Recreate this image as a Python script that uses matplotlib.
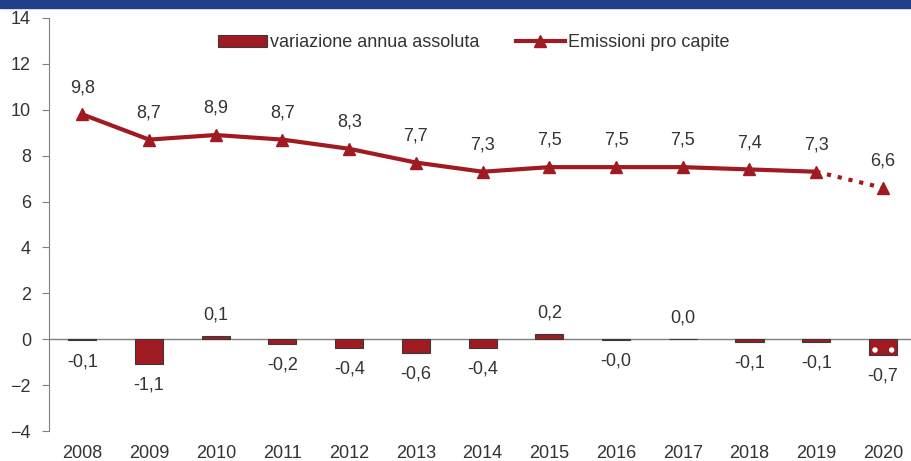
import matplotlib
matplotlib.use('Agg')
import matplotlib.pyplot as plt
from matplotlib.patches import Rectangle
import numpy as np

years = ['2008', '2009', '2010', '2011', '2012', '2013', '2014',
         '2015', '2016', '2017', '2018', '2019', '2020']
variazione = [-0.05, -1.09, 0.12, -0.2, -0.38, -0.6, -0.38, 0.24, -0.03, 0.02, -0.1, -0.13, -0.7]
variazione_lbl = ['-0,1', '-1,1', '0,1', '-0,2', '-0,4', '-0,6', '-0,4', '0,2', '-0,0', '0,0', '-0,1', '-0,1', '-0,7']
pro_capite = [9.8, 8.7, 8.9, 8.7, 8.3, 7.7, 7.3, 7.5, 7.5, 7.5, 7.4, 7.3, 6.6]
pro_capite_lbl = ['9,8', '8,7', '8,9', '8,7', '8,3', '7,7', '7,3', '7,5', '7,5', '7,5', '7,4', '7,3', '6,6']

red = '#A01B21'
txt = '#333333'
plt.rcParams['font.family'] = ['Liberation Sans', 'DejaVu Sans']
plt.rcParams['hatch.linewidth'] = 1.5

fig = plt.figure(figsize=(9.12, 4.61), dpi=100)
# banda blu del titolo (tagliata)
fig.patches.append(Rectangle((0, 0.982), 1, 0.02, transform=fig.transFigure,
                             color='#21418C', zorder=0))
ax = fig.add_axes([0.0537, 0.065, 0.951, 0.896])

x = np.arange(len(years))
bars = ax.bar(x, variazione, width=0.42, color=red, edgecolor='#3a3a3a',
              linewidth=0.8, label='variazione annua assoluta', zorder=3)
# 2020 stimato: puntini bianchi sulla barra
ax.bar(x[-1:], variazione[-1:], width=0.42, fill=False, hatch='.',
       edgecolor='white', linewidth=0, zorder=3.5)

ax.axhline(0, color='#7f7f7f', linewidth=1, zorder=2)

line, = ax.plot(x[:-1], pro_capite[:-1], color=red, linewidth=3, marker='^',
                markersize=9, zorder=4, label='Emissioni pro capite')
ax.plot(x[-2:], pro_capite[-2:], color=red, linewidth=3, linestyle=':', zorder=4)
ax.plot(x[-1], pro_capite[-1], color=red, marker='^', markersize=9,
        linestyle='none', zorder=4)

for i, (v, s) in enumerate(zip(pro_capite, pro_capite_lbl)):
    ax.text(x[i], v + 0.8, s, ha='center', va='bottom', fontsize=13, color=txt)

for i, (v, s) in enumerate(zip(variazione, variazione_lbl)):
    if s.startswith('-'):
        ax.text(x[i], v - 0.55, s, ha='center', va='top', fontsize=13, color=txt)
    else:
        ax.text(x[i], v + 0.55, s, ha='center', va='bottom', fontsize=13, color=txt)

ax.set_xlim(-0.5, len(years) - 0.5)
ax.set_ylim(-4, 14)
ax.set_yticks(range(-4, 15, 2))
ax.set_xticks(x)
ax.set_xticklabels(years)
ax.tick_params(axis='y', length=5, color='#7f7f7f', labelsize=13, labelcolor=txt, pad=8)
ax.tick_params(axis='x', length=0, labelsize=13, labelcolor=txt, pad=10)
for side in ['top', 'right', 'bottom']:
    ax.spines[side].set_visible(False)
ax.spines['left'].set_color('#7f7f7f')

ax.legend(handles=[bars, line], loc='upper center', bbox_to_anchor=(0.49, 1.0),
          ncol=2, frameon=False, fontsize=13, handlelength=2.7,
          columnspacing=2.0, handletextpad=0.2, labelcolor=txt)

fig.savefig('out.png', dpi=100)
